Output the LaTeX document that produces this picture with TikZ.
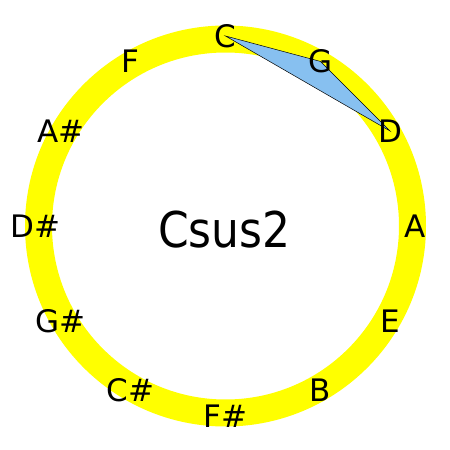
\documentclass[tikz,border=0pt]{standalone}
\usepackage{fontspec}
\setmainfont{DejaVu Sans}
\usetikzlibrary{calc}
\definecolor{ringyellow}{RGB}{255,255,0}
\definecolor{triblue}{RGB}{135,192,240}
\tikzset{
  notelabel/.style={inner sep=0pt, text height=22.6pt, text depth=0pt, anchor=center,
    font=\fontsize{31}{31}\selectfont},
  chordname/.style={inner sep=0pt, text height=35.8pt, text depth=0pt, anchor=center,
    font=\fontsize{44}{44}\selectfont},
  ring/.style={draw=ringyellow, line width=27pt},
  chordtri/.style={fill=triblue, draw=black, line width=0.5pt, line join=miter},
}
\begin{document}
\begin{tikzpicture}[x=1pt,y=1pt]
\useasboundingbox (0,0) rectangle (450,450);
\coordinate (ctr) at (225.5,224);
\draw[ring] (ctr) circle[radius=187];
\foreach \name/\ang in {C/90, G/60, D/30, A/0, E/-30, B/-60, Fs/-90, Cs/-120, Gs/-150, Ds/180, As/150, F/120}{
  \coordinate (p\name) at ($(ctr)+(\ang:190)$);
}
\draw[chordtri] (pC) -- (pG) -- (pD) -- cycle;
\node[notelabel] (nC) at (pC) {C};
\node[notelabel] (nG) at (pG) {G};
\node[notelabel] (nD) at (pD) {D};
\node[notelabel] (nA) at (pA) {A};
\node[notelabel] (nE) at (pE) {E};
\node[notelabel] (nB) at (pB) {B};
\node[notelabel] (nFs) at (pFs) {F\#};
\node[notelabel] (nCs) at (pCs) {C\#};
\node[notelabel] (nGs) at (pGs) {G\#};
\node[notelabel] (nDs) at (pDs) {D\#};
\node[notelabel] (nAs) at (pAs) {A\#};
\node[notelabel] (nF) at (pF) {F};
\node[chordname] (title) at (224.5,220.5) {\scalebox{1}[1.12]{Csus2}};
\end{tikzpicture}
\end{document}
